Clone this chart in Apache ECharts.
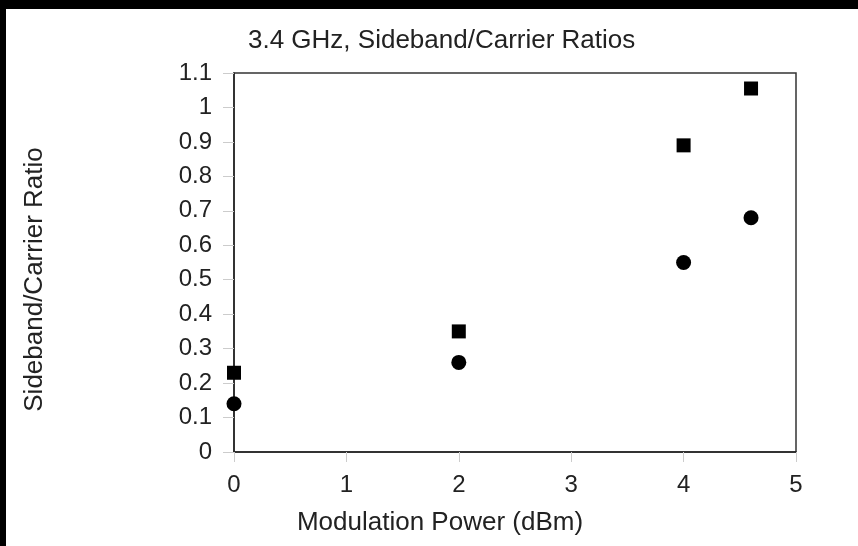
<!DOCTYPE html>
<html>
<head>
<meta charset="utf-8">
<script src="https://cdn.jsdelivr.net/npm/echarts@6/dist/echarts.min.js"></script>
<style>
  html, body { margin: 0; padding: 0; background: #000; width: 858px; height: 546px; overflow: hidden; }
  #chart { position: absolute; left: 6px; top: 9px; width: 852px; height: 537px; background: #fff; }
</style>
</head>
<body>
<div id="chart"></div>
<script>
// Modulation power settings (dBm)
const powerDbm = [0, 2, 4, 4.6];
// Sideband/carrier ratios for the two sidebands
const upperRatio = [0.23, 0.35, 0.89, 1.055];
const lowerRatio = [0.14, 0.26, 0.55, 0.68];
// Axis ranges and ticks
const xTicks = [0, 1, 2, 3, 4, 5];
const yMax = 1.1;

const font = 'Liberation Sans, Arial, Helvetica, sans-serif';
const chart = echarts.init(document.getElementById('chart'));

chart.setOption({
  animation: false,
  backgroundColor: '#fff',
  title: {
    text: '3.4 GHz, Sideband/Carrier Ratios',
    left: 237,
    top: 14,
    textStyle: { fontFamily: font, fontSize: 26, fontWeight: 'normal', color: '#222' }
  },
  grid: {
    left: 228, right: 62, top: 64, bottom: 94,
    show: true, borderColor: '#333', borderWidth: 1.5, backgroundColor: '#fff'
  },
  xAxis: {
    type: 'value',
    min: xTicks[0], max: xTicks[xTicks.length - 1], interval: 1,
    name: 'Modulation Power (dBm)',
    nameLocation: 'middle',
    nameGap: 58,
    nameTextStyle: { fontFamily: font, fontSize: 26, color: '#222', padding: [0, 150, 0, 0] },
    axisLine: { show: true, onZero: false, lineStyle: { color: '#222', width: 1.5 } },
    axisTick: { show: true, length: 10, lineStyle: { color: '#ccc' } },
    axisLabel: { fontFamily: font, fontSize: 24, color: '#222', margin: 21 },
    splitLine: { show: false }
  },
  yAxis: {
    type: 'value',
    min: 0, max: yMax, interval: 0.1,
    name: 'Sideband/Carrier Ratio',
    nameLocation: 'middle',
    nameGap: 186,
    nameTextStyle: { fontFamily: font, fontSize: 26, color: '#222', padding: [0, 34, 0, 0] },
    axisLine: { show: true, onZero: false, lineStyle: { color: '#222', width: 1.5 } },
    axisTick: { show: true, length: 11, lineStyle: { color: '#ccc' } },
    axisLabel: {
      fontFamily: font, fontSize: 24, color: '#222', margin: 22,
      formatter: v => String(Math.round(v * 10) / 10)
    },
    splitLine: { show: false }
  },
  series: [
    {
      name: 'Upper sideband',
      type: 'scatter',
      symbol: 'rect',
      symbolSize: 14,
      itemStyle: { color: '#000', opacity: 1 },
      data: powerDbm.map((x, i) => [x, upperRatio[i]])
    },
    {
      name: 'Lower sideband',
      type: 'scatter',
      symbol: 'circle',
      symbolSize: 15,
      itemStyle: { color: '#000', opacity: 1 },
      data: powerDbm.map((x, i) => [x, lowerRatio[i]])
    }
  ]
});
</script>
</body>
</html>
